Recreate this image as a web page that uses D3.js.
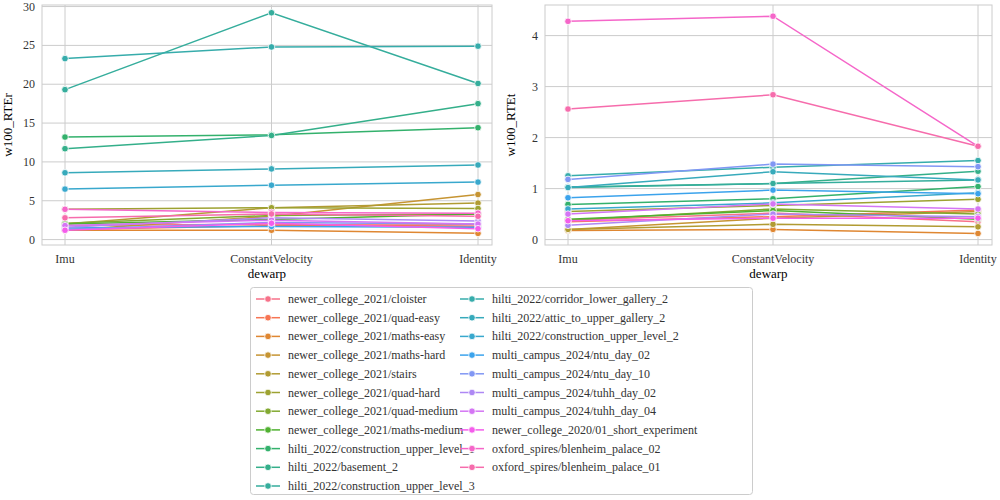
<!DOCTYPE html>
<html><head><meta charset="utf-8">
<script src="https://cdn.jsdelivr.net/npm/d3@7"></script>
<style>body{margin:0;background:#fff}svg,svg text{font-family:'Liberation Serif','Times New Roman','DejaVu Serif',serif}</style>
</head><body><svg id="c" width="1000" height="500" font-family="Liberation Serif, Times New Roman, serif"></svg>
<script>
const categories=["Imu","ConstantVelocity","Identity"];
const seriesNames=["newer_college_2021/cloister","newer_college_2021/quad-easy","newer_college_2021/maths-easy","newer_college_2021/maths-hard","newer_college_2021/stairs","newer_college_2021/quad-hard","newer_college_2021/quad-medium","newer_college_2021/maths-medium","hilti_2022/construction_upper_level_1","hilti_2022/basement_2","hilti_2022/construction_upper_level_3","hilti_2022/corridor_lower_gallery_2","hilti_2022/attic_to_upper_gallery_2","hilti_2022/construction_upper_level_2","multi_campus_2024/ntu_day_02","multi_campus_2024/ntu_day_10","multi_campus_2024/tuhh_day_02","multi_campus_2024/tuhh_day_04","newer_college_2020/01_short_experiment","oxford_spires/blenheim_palace_02","oxford_spires/blenheim_palace_01"];
const rteR=[[1.8,2.0,1.7],[1.3,1.8,1.9],[1.2,1.2,0.8],[1.2,3.0,5.8],[2.0,4.1,4.7],[3.9,4.1,4.0],[2.1,3.1,3.3],[2.0,2.6,3.3],[13.2,13.5,14.4],[11.7,13.4,17.5],[19.3,29.2,20.1],[23.3,24.8,24.9],[8.6,9.1,9.6],[6.5,7.0,7.4],[1.5,1.7,1.6],[1.3,2.2,2.0],[1.6,2.8,2.4],[1.8,2.5,2.0],[1.2,2.1,1.4],[3.9,3.5,3.4],[2.8,3.3,3.0]];
const rteT=[[0.38,0.52,0.35],[0.35,0.45,0.58],[0.18,0.2,0.12],[0.2,0.42,0.55],[0.2,0.3,0.25],[0.55,0.67,0.79],[0.38,0.6,0.5],[0.4,0.57,0.4],[0.69,0.8,1.04],[1.03,1.1,1.34],[1.02,1.1,1.17],[1.25,1.42,1.55],[1.02,1.33,1.17],[0.6,0.72,0.92],[0.82,0.97,0.9],[1.18,1.48,1.43],[0.28,0.5,0.45],[0.5,0.7,0.6],[0.37,0.42,0.42],[4.28,4.38,1.83],[2.56,2.84,1.83]];
const yTicksL=[0,5,10,15,20,25,30], yTicksR=[0,1,2,3,4];

const M=[[3.240969941904521,-1.537383177570093,-0.498610760293],[-0.96924363628087,1.87596750150772,0.041555057407175],[0.055630079696993,-0.20397695888897,1.056971514242878]];
const K=903.2962962,E=0.0088564516;
function husl(H,S,L){
  const s1=Math.pow(L+16,3)/1560896, s2=s1>E?s1:L/K;
  const hr=H/180*Math.PI; let mc=Infinity;
  for(const [m1,m2,m3] of M)for(const t of [0,1]){
    const top1=(284517*m1-94839*m3)*s2, top2=(838422*m3+769860*m2+731718*m1)*L*s2-769860*t*L, bot=(632260*m3-126452*m2)*s2+126452*t;
    const sl=top1/bot, ic=top2/bot, len=ic/(Math.sin(hr)-sl*Math.cos(hr)); if(len>=0)mc=Math.min(mc,len);}
  const C=mc/100*S,u=C*Math.cos(hr),v=C*Math.sin(hr);
  const vu=u/(13*L)+0.19783000664283, vv=v/(13*L)+0.46831999493879;
  const Y=L<=8?L/K:Math.pow((L+16)/116,3);
  const X=0-(9*Y*vu)/((vu-4)*vv-vu*vv), Z=(9*Y-15*vv*Y-vv*X)/(3*vv);
  const g=c=>{c=c<=0.0031308?12.92*c:1.055*Math.pow(c,1/2.4)-0.055;return Math.round(Math.max(0,Math.min(1,c))*255)};
  const rgb=M.map(r=>g(r[0]*X+r[1]*Y+r[2]*Z));
  return `rgb(${rgb.join(",")})`;}
const n=seriesNames.length;
const colors=d3.range(n).map(i=>husl(((i/n+0.01)%1)*359,89.1,64.35));
const FF="Liberation Serif, Times New Roman, serif";

const svg=d3.select("#c");
function panel(x0,x1,y0,y1,data,yMax,ticks,label){
  const g=svg.append("g").attr("font-family",FF);
  const x=d3.scalePoint().domain(categories).range([x0+23,x1-14]);
  const y=d3.scaleLinear().domain([-0.022*yMax*1.05,yMax]).range([y1,y0]);
  g.selectAll(".gy").data(ticks).join("line").attr("x1",x0).attr("x2",x1).attr("y1",d=>y(d)).attr("y2",d=>y(d)).attr("stroke","#cccccc");
  g.selectAll(".gx").data(categories).join("line").attr("x1",d=>x(d)).attr("x2",d=>x(d)).attr("y1",y0).attr("y2",y1).attr("stroke","#cccccc");
  g.append("rect").attr("x",x0).attr("y",y0).attr("width",x1-x0).attr("height",y1-y0).attr("fill","none").attr("stroke","#cccccc");
  g.selectAll(".ty").data(ticks).join("text").attr("x",x0-7).attr("y",d=>y(d)+4).attr("text-anchor","end").attr("font-size",12).attr("fill","#333").text(d=>d);
  g.selectAll(".tx").data(categories).join("text").attr("x",d=>x(d)).attr("y",y1+18).attr("text-anchor","middle").attr("font-size",12).attr("fill","#333").text(d=>d);
  g.append("text").attr("x",(x0+x1)/2).attr("y",y1+33).attr("text-anchor","middle").attr("font-size",13).text("dewarp");
  g.append("text").attr("transform",`translate(${x0-30},${(y0+y1)/2}) rotate(-90)`).attr("text-anchor","middle").attr("font-size",13).text(label);
  const line=d3.line().x((d,i)=>x(categories[i])).y(d=>y(d));
  data.forEach((s,i)=>{
    g.append("path").attr("d",line(s)).attr("fill","none").attr("stroke",colors[i]).attr("stroke-width",1.5);
    g.selectAll(null).data(s).join("circle").attr("cx",(d,j)=>x(categories[j])).attr("cy",d=>y(d)).attr("r",3.3).attr("fill",colors[i]).attr("stroke","#fff").attr("stroke-width",0.8);
  });
}
panel(42,492,5,245,rteR,30.2,yTicksL,"w100_RTEr");
panel(545,992,5,245,rteT,4.6,yTicksR,"w100_RTEt");

const lg=svg.append("g").attr("font-family",FF);
lg.append("rect").attr("x",250.5).attr("y",287.5).attr("width",502).attr("height",207).attr("rx",3).attr("fill","#fff").attr("stroke","#cccccc");
seriesNames.forEach((nm,i)=>{
  const col=i<11?0:1,row=i<11?i:i-11;
  const lx=256+col*204, ly=299+row*18.7;
  lg.append("line").attr("x1",lx).attr("x2",lx+24).attr("y1",ly).attr("y2",ly).attr("stroke",colors[i]).attr("stroke-width",1.5);
  lg.append("circle").attr("cx",lx+12).attr("cy",ly).attr("r",3.3).attr("fill",colors[i]).attr("stroke","#fff").attr("stroke-width",0.8);
  lg.append("text").attr("x",lx+32).attr("y",ly+4).attr("font-size",12).attr("fill","#333").text(nm);
});
</script></body></html>
